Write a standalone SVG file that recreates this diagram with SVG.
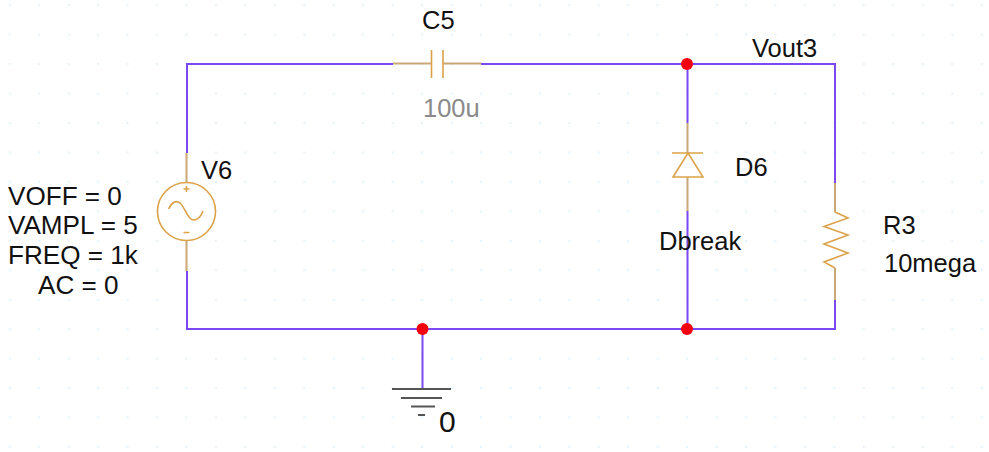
<svg xmlns="http://www.w3.org/2000/svg" width="989" height="452" viewBox="0 0 989 452">
<style>
.wire{fill:none;stroke:#7a48f5;stroke-width:2}
.part{fill:none;stroke:#dca24a;stroke-width:1.6}
.lead{fill:none;stroke:#c9a876;stroke-width:2}
.gnd{fill:none;stroke:#555;stroke-width:2}
.dot{fill:#f5000f}
text{font-family:"Liberation Sans",Arial,sans-serif;font-size:25.5px;fill:#111}
.src{font-size:26.1px}
.val{fill:#8a8a8a}
</style>
<defs>
<pattern id="grid" x="8.8" y="4.2" width="29.45" height="29.45" patternUnits="userSpaceOnUse">
<rect width="2" height="2" fill="#e4f2fc"/>
</pattern>
</defs>
<rect width="989" height="452" fill="#fff"/>
<rect id="dots" width="989" height="452" fill="url(#grid)"/>
<g id="connectors">
<path class="wire" d="M187 153V64H393M481 64H835V183M835 300V329H187V271M687.500 64V123M687.500 211V329M422.500 329V389"/>
</g>
<g id="V6">
<path class="lead" d="M186.500 153V183M186.500 240V271"/>
<circle class="part" cx="186.500" cy="211.500" r="29"/>
<path class="part" d="M183.500 189H189.500M186.500 186V192M183.500 232.500H189.500"/>
<path class="part" d="M168.500 209C172 202 176 200 180 203C185 207 187 219 193 220C198 220 201 217 203 211"/>
<text x="201" y="179">V6</text>
<text class="src" x="8" y="205">VOFF = 0</text>
<text class="src" x="8" y="234">VAMPL = 5</text>
<text class="src" x="8" y="264">FREQ = 1k</text>
<text class="src" x="38" y="294">AC = 0</text>
</g>
<g id="C5">
<path class="lead" d="M393 63.500H431.500M443 63.500H481"/>
<path class="part" d="M431.500 50V78M443 50V78"/>
<text x="422" y="29">C5</text>
<text class="val" x="423" y="117">100u</text>
</g>
<g id="D6">
<path class="lead" d="M687.500 123V153M687.500 177V211"/>
<path class="part" d="M672 153H703M688 153L673 177H703Z"/>
<text x="735" y="176">D6</text>
<text x="659" y="250">Dbreak</text>
</g>
<g id="R3">
<path class="lead" d="M835 183V212M835 268V300"/>
<path class="part" d="M835 212L848 218L824 226.500L848 235L824 244L848 253L824 262L835 268"/>
<text x="883" y="234">R3</text>
<text x="884" y="272">10mega</text>
</g>
<g id="ground">
<path class="gnd" d="M392 389H451M401 398H442M411 406.500H435M418 415H425"/>
<text x="439" y="432" style="font-size:30px">0</text>
</g>
<g id="Vout3"><text x="752" y="57">Vout3</text></g>
<g id="junctions">
<circle class="dot" cx="422.500" cy="329" r="6"/>
<circle class="dot" cx="687" cy="329" r="6"/>
<circle class="dot" cx="687" cy="64" r="6"/>
</g>
</svg>
